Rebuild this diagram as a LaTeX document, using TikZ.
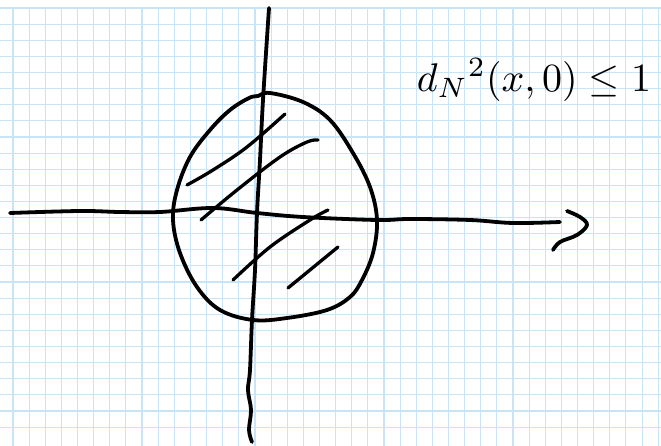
\documentclass[tikz,border=0pt]{standalone}
\begin{document}
\begin{tikzpicture}[x=1pt,y=-1pt,
  gridline/.style={draw={rgb,255:red,200;green,229;blue,248},line width=1.1pt},
  ink/.style={draw=black,line width=3.8pt,line cap=round,line join=round},
  hatch/.style={draw=black,line width=3.3pt,line cap=round}]
\useasboundingbox (0,0) rectangle (661,446);
\fill[white] (0,0) rectangle (661,446);
% grid paper
\foreach \i in {0,...,40} {\draw[gridline] ({13+16.13*\i},8) -- ({13+16.13*\i},446);}
\foreach \j in {0,...,26} {\draw[gridline] (0,{8+16.12*\j}) -- (661,{8+16.12*\j});}
% horizontal axis with open arrowhead
\draw[ink] plot[smooth,tension=0.6] coordinates {(10,213) (80,211) (120,212) (160,212) (213,208) (257,213) (303,217) (377,220) (410,219) (470,220) (513,223) (560,222)};
\draw[ink] plot[smooth,tension=0.6] coordinates {(567,211) (580,217) (587,225) (577,235) (560,242) (553,250)};
% vertical axis
\draw[ink] plot[smooth,tension=0.6] coordinates {(269,8) (263,100) (260,160) (257,213) (255,270) (252,320) (250,370) (248,390) (251,410) (249,430) (252,442)};
% egg-shaped region
\draw[ink] plot[smooth cycle,tension=0.6] coordinates {(258,96) (270,93) (303,102) (330,120) (353,153) (370,187) (377,220) (373,253) (362,280) (350,297) (327,310) (287,318) (253,320) (220,310) (197,287) (180,253) (173,220) (177,190) (190,157) (210,130) (230,110) (249,98)};
% hatching
\draw[hatch] plot[smooth,tension=0.6] coordinates {(187,185) (213,170) (247,147) (285,114)};
\draw[hatch] plot[smooth,tension=0.6] coordinates {(201,220) (237,190) (280,157) (307,142) (318,140)};
\draw[hatch] plot[smooth,tension=0.6] coordinates {(233,280) (270,247) (310,220) (328,210)};
\draw[hatch] (288,288) -- (338,247);
% label
\node[scale=4] (lbl) at (534,80) {$d_N{}^{2}(x,0)\le 1$};
\end{tikzpicture}
\end{document}
